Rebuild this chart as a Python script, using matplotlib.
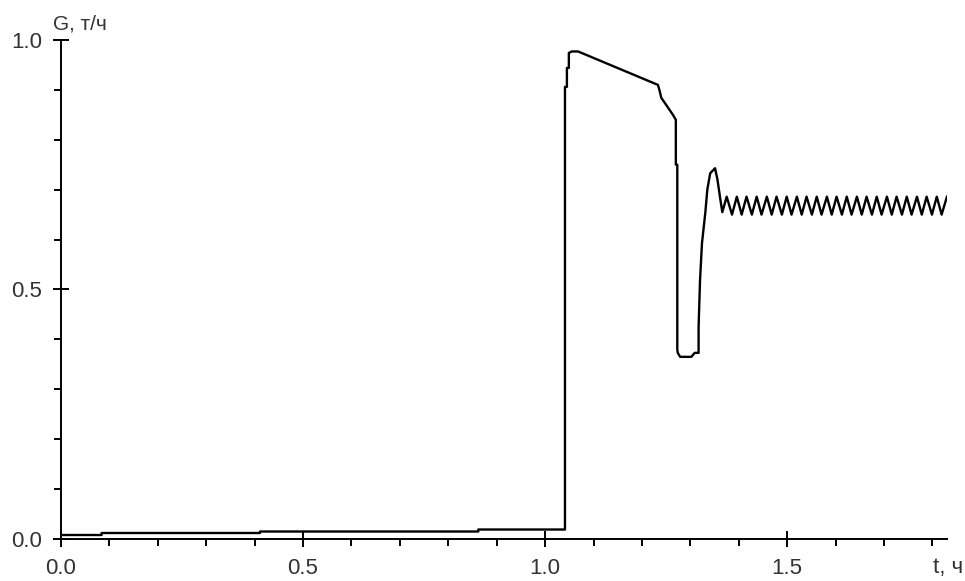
import numpy as np
import matplotlib.pyplot as plt

# main response curve G(t)
t_main = [0.0, 0.084, 0.084, 0.411, 0.411, 0.862, 0.862, 1.041, 1.041, 1.045, 1.045,
          1.049, 1.049, 1.055, 1.068, 1.233, 1.236, 1.240, 1.250, 1.264, 1.270, 1.270,
          1.273, 1.273, 1.274, 1.279, 1.302, 1.309, 1.317, 1.317, 1.320, 1.324, 1.331,
          1.335, 1.341, 1.351, 1.356, 1.362, 1.366]
g_main = [0.008, 0.008, 0.012, 0.012, 0.015, 0.015, 0.019, 0.019, 0.906, 0.906, 0.944,
          0.944, 0.974, 0.977, 0.977, 0.910, 0.900, 0.884, 0.870, 0.850, 0.840, 0.750,
          0.750, 0.380, 0.373, 0.365, 0.365, 0.373, 0.373, 0.425, 0.519, 0.593, 0.655,
          0.700, 0.733, 0.743, 0.720, 0.680, 0.655]

# steady oscillation tail: alternating peaks and troughs
t_osc = [1.375, 1.386, 1.396, 1.406, 1.416, 1.427, 1.437, 1.447, 1.458, 1.468, 1.478,
         1.489, 1.499, 1.509, 1.520, 1.530, 1.540, 1.551, 1.561, 1.571, 1.582, 1.592,
         1.602, 1.613, 1.623, 1.633, 1.644, 1.654, 1.664, 1.675, 1.685, 1.695, 1.706,
         1.716, 1.726, 1.737, 1.747, 1.757, 1.768, 1.778, 1.788, 1.799, 1.809, 1.819,
         1.830]
g_osc = [0.686, 0.650, 0.686, 0.650, 0.686, 0.650, 0.686, 0.650, 0.686, 0.650, 0.686,
         0.650, 0.686, 0.650, 0.686, 0.650, 0.686, 0.650, 0.686, 0.650, 0.686, 0.650,
         0.686, 0.650, 0.686, 0.650, 0.686, 0.650, 0.686, 0.650, 0.686, 0.650, 0.686,
         0.650, 0.686, 0.650, 0.686, 0.650, 0.686, 0.650, 0.686, 0.650, 0.686, 0.650,
         0.686]

x_major = [0.0, 0.5, 1.0, 1.5]
x_minor = [0.1, 0.2, 0.3, 0.4, 0.6, 0.7, 0.8, 0.9, 1.1, 1.2, 1.3, 1.4, 1.6, 1.7, 1.8]
y_major = [0.0, 0.5, 1.0]
y_minor = [0.1, 0.2, 0.3, 0.4, 0.6, 0.7, 0.8, 0.9]

plt.rcParams['font.family'] = ['Liberation Sans', 'DejaVu Sans']

fig = plt.figure(figsize=(9.65, 5.81), dpi=100)
ax = fig.add_axes([0.0632, 0.0723, 0.9181, 0.8589])

t = np.array(t_main + t_osc)
g = np.array(g_main + g_osc)
ax.plot(t, g, color='black', lw=1.7)

ax.set_xlim(0, 1.83)
ax.set_ylim(0, 1.0)
ax.spines['top'].set_visible(False)
ax.spines['right'].set_visible(False)
for s in ('left', 'bottom'):
    ax.spines[s].set_linewidth(1.4)

ax.set_xticks(x_major)
ax.set_xticks(x_minor, minor=True)
ax.set_yticks(y_major)
ax.set_yticks(y_minor, minor=True)
ax.set_xticklabels([f'{v:.1f}' for v in x_major])
ax.set_yticklabels([f'{v:.1f}' for v in y_major])

ax.tick_params(which='major', direction='inout', length=11, width=1.4,
               labelsize=16, labelcolor='#333333')
ax.tick_params(axis='x', which='major', pad=8)
ax.tick_params(axis='y', which='major', pad=8)
ax.tick_params(which='minor', direction='out', length=5, width=1.4)

ax.annotate('G, т/ч', xy=(0, 1), xycoords='axes fraction', xytext=(-6, 5),
            textcoords='offset points', ha='left', va='bottom',
            fontsize=15, color='#333333')
ax.annotate('t, ч', xy=(1, 0), xycoords='axes fraction', xytext=(12, -13),
            textcoords='offset points', ha='right', va='top',
            fontsize=16, color='#333333')

fig.savefig('out.png', dpi=100)
